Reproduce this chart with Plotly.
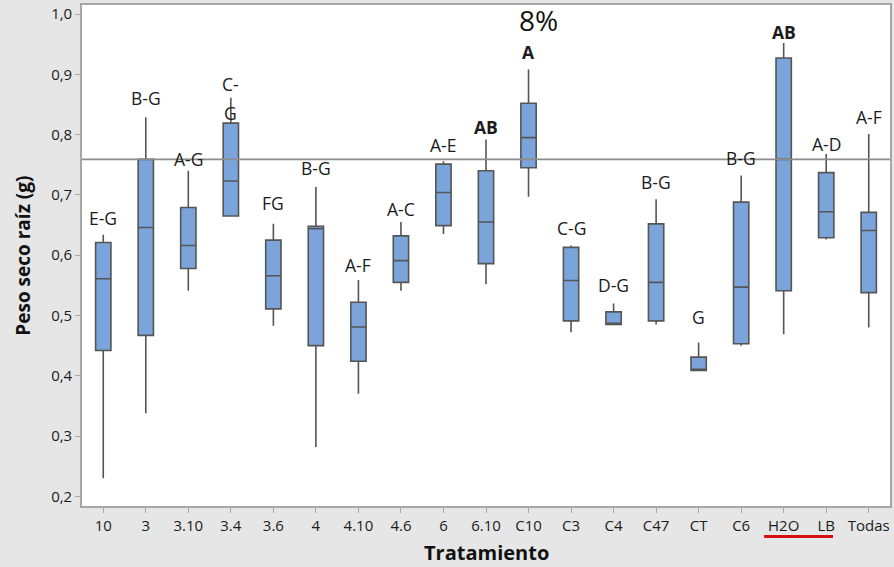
import plotly.graph_objects as go

# Tratamientos y resumen de cada caja (peso seco de raíz, g)
tratamientos = ["10", "3", "3.10", "3.4", "3.6", "4", "4.10", "4.6", "6", "6.10",
                "C10", "C3", "C4", "C47", "CT", "C6", "H2O", "LB", "Todas"]
minimo  = [0.230, 0.338, 0.541, 0.665, 0.483, 0.282, 0.370, 0.541, 0.635, 0.552,
           0.697, 0.472, 0.485, 0.485, 0.409, 0.450, 0.469, 0.626, 0.480]
q1      = [0.442, 0.467, 0.578, 0.665, 0.511, 0.450, 0.424, 0.555, 0.649, 0.586,
           0.745, 0.491, 0.485, 0.491, 0.409, 0.453, 0.541, 0.629, 0.538]
mediana = [0.561, 0.646, 0.616, 0.723, 0.566, 0.644, 0.481, 0.591, 0.704, 0.655,
           0.795, 0.558, 0.487, 0.555, 0.409, 0.547, 0.759, 0.672, 0.641]
q3      = [0.621, 0.759, 0.679, 0.819, 0.625, 0.648, 0.522, 0.632, 0.751, 0.740,
           0.852, 0.613, 0.506, 0.652, 0.431, 0.688, 0.927, 0.737, 0.671]
maximo  = [0.634, 0.829, 0.740, 0.861, 0.652, 0.713, 0.559, 0.655, 0.756, 0.792,
           0.908, 0.616, 0.520, 0.693, 0.455, 0.732, 0.952, 0.768, 0.801]

# Letras de agrupación (Tukey) y su altura
grupos   = ["E-G", "B-G", "A-G", "C-", "FG", "B-G", "A-F", "A-C", "A-E", "AB",
            "A", "C-G", "D-G", "B-G", "G", "B-G", "AB", "A-D", "A-F"]
y_grupos = [0.662, 0.861, 0.760, 0.884, 0.687, 0.745, 0.584, 0.677, 0.783, 0.813,
            0.937, 0.645, 0.551, 0.721, 0.498, 0.761, 0.970, 0.784, 0.829]
negrita  = ["AB", "A"]

referencia = 0.759  # línea horizontal de referencia

FONT = "Open Sans"
TXT = "#1b1b1b"

fig = go.Figure()
fig.add_trace(go.Box(
    x=tratamientos,
    q1=q1, median=mediana, q3=q3,
    lowerfence=minimo, upperfence=maximo,
    fillcolor="#7ba5da",
    line=dict(color="#555555", width=1.6),
    whiskerwidth=0,
    width=0.36,
    boxpoints=False,
    hoverinfo="skip",
    showlegend=False,
))

fig.add_shape(type="line", xref="paper", yref="y", x0=0, x1=1,
              y0=referencia, y1=referencia,
              line=dict(color="#8c8c8c", width=1.6), layer="above")

anotaciones = []
# en un eje de categorías la posición de la etiqueta se da por índice
for i, (g, yg) in enumerate(zip(grupos, y_grupos)):
    texto = f"<b>{g}</b>" if g in negrita else g
    anotaciones.append(dict(x=i, y=yg, xref="x", yref="y", text=texto,
                            showarrow=False, xanchor="center", yanchor="middle",
                            font=dict(family=FONT, size=17.5, color=TXT)))
# segunda línea de la etiqueta "C-G" partida
anotaciones.append(dict(x=3, y=0.836, xref="x", yref="y", text="G",
                        showarrow=False, xanchor="center", yanchor="middle",
                        font=dict(family=FONT, size=17.5, color=TXT)))
anotaciones.append(dict(x=10.23, y=0.99, xref="x", yref="y", text="8%",
                        showarrow=False, xanchor="center", yanchor="middle",
                        font=dict(family=FONT, size=28, color="#111111")))
anotaciones.append(dict(x=-0.074, y=0.5, xref="paper", yref="paper",
                        text="<b>Peso seco raíz (g)</b>", textangle=-90,
                        showarrow=False, xanchor="center", yanchor="middle",
                        font=dict(family=FONT, size=19, color="#111111")))
anotaciones.append(dict(x=0.5, y=-0.093, xref="paper", yref="paper",
                        text="<b>Tratamiento</b>",
                        showarrow=False, xanchor="center", yanchor="middle",
                        font=dict(family=FONT, size=20, color="#111111")))

# subrayado rojo bajo H2O y LB
fig.add_shape(type="line", xref="x", yref="paper", x0=15.54, x1=17.16,
              y0=-0.061, y1=-0.061, line=dict(color="#d81010", width=3))

fig.update_layout(
    width=894, height=567,
    margin=dict(l=82, r=2, t=5, b=61),
    paper_bgcolor="#e6e6e6",
    plot_bgcolor="#ffffff",
    separators=",.",
    annotations=anotaciones,
    font=dict(family=FONT, size=15, color=TXT),
)
fig.update_xaxes(
    type="category", range=[-0.5, 18.5],
    showline=True, linecolor="#a6a6a6", linewidth=1.6, mirror=True,
    ticks="outside", ticklen=5, tickcolor="#a6a6a6", tickwidth=1,
    showgrid=False, zeroline=False,
    tickfont=dict(family=FONT, size=15, color=TXT),
)
fig.update_yaxes(
    range=[0.184, 1.015], tickvals=[0.2, 0.3, 0.4, 0.5, 0.6, 0.7, 0.8, 0.9, 1.0],
    tickformat=".1f",
    showline=True, linecolor="#a6a6a6", linewidth=1.6, mirror=True,
    ticks="outside", ticklen=5, tickcolor="#a6a6a6", tickwidth=1,
    showgrid=False, zeroline=False,
    tickfont=dict(family=FONT, size=15, color=TXT),
)

fig.write_html("out.html")
